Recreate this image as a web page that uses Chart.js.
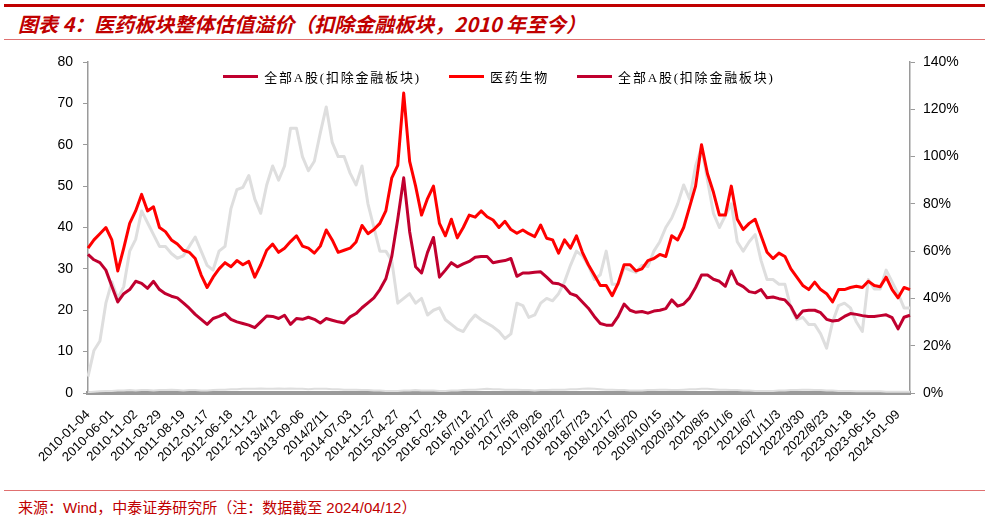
<!DOCTYPE html>
<html lang="zh-CN">
<head>
<meta charset="utf-8">
<title>医药板块整体估值溢价</title>
<script src="https://cdn.jsdelivr.net/npm/chart.js@4.4.1/dist/chart.umd.min.js"></script>
<style>
  html, body { margin: 0; padding: 0; background: #fff; }
  body { width: 989px; height: 520px; position: relative; overflow: hidden; font-family: "Liberation Sans", Arial, sans-serif; }
  .topbar { position: absolute; left: 4px; right: 4px; top: 4px; height: 3px; background: #c00000; }
  .title { position: absolute; left: 18px; top: 9px; line-height: 26px; font: italic bold 20px "Noto Sans CJK SC", sans-serif; color: #c00000; white-space: nowrap; }
  .rule { position: absolute; left: 4px; right: 4px; height: 1px; background: #e07070; }
  .source { position: absolute; left: 18px; top: 496px; font: 15px "Liberation Sans", "Noto Sans CJK SC", sans-serif; color: #c00000; white-space: nowrap; }
  #box { position: absolute; left: 0; top: 40px; width: 989px; height: 440px; }
  #legend { position: absolute; left: 88px; width: 822px; top: 67px; display: flex; justify-content: center; align-items: center; }
  .item { display: flex; align-items: center; margin: 0 14px; }
  .item i { display: inline-block; width: 35px; height: 3px; margin-right: 6px; }
  .item span { font: 13px "Liberation Serif", "Noto Sans CJK SC", serif; letter-spacing: 1.8px; color: #000; }
</style>
</head>
<body>
<div class="topbar"></div>
<div class="title">图表 4：医药板块整体估值溢价（扣除金融板块，2010 年至今）</div>
<div class="rule" style="top:39px"></div>
<div id="box"><canvas id="chart"></canvas></div>
<div id="legend"></div>
<div class="rule" style="top:490px"></div>
<div class="source">来源：Wind，中泰证券研究所（注：数据截至 2024/04/12）</div>
<script>
// x-Achse: jeder 4. Punkt bekommt ein Datum
const tickLabels = ['2010-01-04','2010-06-01','2010-11-02','2011-03-29','2011-08-19','2012-01-17','2012-06-18','2012-11-12',
  '2013/4/12','2013-09-06','2014/2/11','2014-07-03','2014-11-27','2015-04-27','2015-09-17','2016-02-18','2016/7/12',
  '2016/12/7','2017/5/8','2017/9/26','2018/2/27','2018/7/23','2018/12/17','2019/5/20','2019/10/15','2020/3/11',
  '2020/8/5','2021/1/6','2021/6/7','2021/11/3','2022/3/30','2022/8/23','2023-01-18','2023-06-15','2024-01-09'];
const STEP = 4;

// 医药生物 PE
const pharmaPE = [
  35, 37, 38.5, 40, 37, 29.5, 35, 41, 44, 48,
  44, 45, 40, 39, 37, 36, 34.5, 34, 32.5, 28.5,
  25.5, 28, 30, 31.5, 30.5, 32, 31, 31.8, 28, 31,
  34.5, 36, 34, 35, 36.6, 38, 35.5, 35, 33.8, 35.5,
  39.4, 37, 34, 34.5, 35, 36.5, 40.5, 38.5, 39.5, 41,
  44, 52, 55, 72.5, 56, 50, 43, 47, 50, 41,
  38, 42, 37.5, 40, 43, 42.5, 44, 42.6, 41.8, 40,
  41.5, 39.5, 38.6, 39.4, 38.5, 37.8, 40.6, 37.4, 37, 33.8,
  37, 35, 38, 34, 31, 28.5, 26, 26, 23.5, 26.5,
  31, 31, 29.5, 30, 32, 32.5, 33.5, 33, 38, 37,
  40, 45, 50, 60, 53, 48.5, 43, 43, 50, 42,
  39.5, 41, 42, 38, 34, 32.5, 33.8, 33, 30, 28,
  26, 25, 26.8, 25, 24, 22, 25, 25, 25.5, 25.8,
  25.5, 27, 26, 25.7, 28, 25, 23, 25.5, 25
];

// 全部A股(扣除金融板块) PE
const marketPE = [
  33.5, 32.2, 31.5, 29.7, 25.8, 22, 24, 25, 27, 26.5,
  25.3, 27, 25, 24, 23.4, 23, 21.8, 20.5, 19, 17.8,
  16.6, 18, 18.5, 19.2, 17.8, 17.2, 16.8, 16.4, 15.8, 17.2,
  18.6, 18.5, 18, 18.8, 16.6, 18, 17.8, 18.3, 17.8, 16.9,
  18, 17.6, 17.2, 16.9, 18.4, 19.2, 20.6, 21.8, 23, 25,
  27.6, 33, 42, 52, 39, 30.5, 29, 34, 37.6, 28,
  29.7, 31.5, 30.5, 31.2, 31.8, 32.8, 33, 33, 31.5, 31.8,
  32, 32.5, 28.2, 29, 29, 29.2, 29.3, 28, 26.6, 26.4,
  25.7, 24, 23.5, 22, 20.5, 18.5, 16.8, 16.4, 16.4, 18.5,
  21.5, 20, 19.5, 19.7, 19.3, 19.8, 20, 20.4, 22.5, 21,
  21.5, 23, 25.5, 28.5, 28.5, 27.5, 27, 25.8, 29.5, 26.5,
  25.7, 24.5, 24.2, 25, 23, 23.2, 22.8, 22.5, 20.9, 18.2,
  19.8, 20, 20, 19.4, 17.8, 17.4, 17.6, 18.5, 19.2, 19,
  18.7, 18.5, 18.5, 18.7, 18.9, 18.2, 15.5, 18.3, 18.8
];

// 溢价率 (%), rechte Achse
const premium = [
  6.9, 18, 22, 38, 47, 40, 45, 60, 65, 77,
  72, 67, 62, 62, 59, 57, 58, 62, 66, 60,
  54, 52, 60, 62, 78, 86, 87, 92, 82, 76,
  88, 96, 90, 96, 112, 112, 100, 94, 98, 110,
  121, 106, 100, 100, 93, 88, 96, 80, 70, 60,
  60, 56, 38, 40, 42, 38, 40, 33, 35, 36,
  31, 29, 27, 26, 30, 33, 31, 29.5, 28, 26,
  23, 25, 38, 37, 32, 33, 38, 40, 39, 42,
  47, 54, 60, 58, 54, 48, 50, 60, 46, 46,
  53, 52, 51, 54, 53.5, 60, 64, 70, 74, 80,
  88, 82, 96, 104, 90, 76, 70, 75, 80, 64,
  60, 64, 67, 56, 48, 48, 46, 46, 36, 31,
  32, 29, 29, 25, 19, 30, 37, 38, 36, 30,
  26, 48, 44, 44, 52, 47, 42, 36, 36
];

// flache graue Linie knapp über 0
const baseLine = [
  0.2, 0.3, 0.4, 0.5, 0.5, 0.6, 0.6, 0.7, 0.6, 0.7,
  0.7, 0.6, 0.7, 0.7, 0.8, 0.7, 0.6, 0.7, 0.7, 0.6,
  0.6, 0.7, 0.8, 0.8, 0.9, 0.9, 1.0, 1.0, 1.0, 1.1,
  1.0, 1.0, 1.1, 1.0, 1.1, 1.0, 1.0, 0.9, 1.0, 1.0,
  1.0, 0.9, 0.9, 0.8, 0.8, 0.8, 0.7, 0.7, 0.6, 0.6,
  0.5, 0.5, 0.5, 0.6, 0.6, 0.7, 0.6, 0.6, 0.6, 0.5,
  0.5, 0.6, 0.6, 0.7, 0.8, 0.8, 0.9, 1.0, 0.9, 0.9,
  0.8, 0.8, 0.8, 0.7, 0.7, 0.6, 0.7, 0.7, 0.8, 0.8,
  0.8, 0.9, 0.9, 1.0, 1.1, 1.0, 0.9, 0.8, 0.8, 0.7,
  0.7, 0.6, 0.6, 0.6, 0.7, 0.7, 0.8, 0.8, 0.7, 0.7,
  0.8, 0.9, 0.9, 1.0, 1.0, 0.9, 0.8, 0.8, 0.7, 0.7,
  0.6, 0.6, 0.5, 0.5, 0.5, 0.5, 0.6, 0.6, 0.7, 0.7,
  0.8, 0.8, 0.7, 0.7, 0.6, 0.6, 0.5, 0.5, 0.5, 0.4,
  0.4, 0.4, 0.4, 0.4, 0.3, 0.3, 0.3, 0.3, 0.3
];

const legendNames = ['全部A股(扣除金融板块)', '医药生物', '全部A股(扣除金融板块)'];
const legendColors = ['#c0002f', '#ff0000', '#c0002f'];

const RED = '#ff0000', CRIMSON = '#c0002f', GREY = '#dedede', AXIS = '#9a9a9a';

const labels = pharmaPE.map((_, i) => i % STEP === 0 ? tickLabels[i / STEP] : '');

const lg = document.getElementById('legend');
legendNames.forEach((n, i) => {
  lg.innerHTML += `<div class="item"><i style="background:${legendColors[i]}"></i><span>${n}</span></div>`;
});

Chart.defaults.font.family = '"Liberation Sans", Arial, sans-serif';
Chart.defaults.color = '#000';

new Chart(document.getElementById('chart'), {
  type: 'line',
  data: {
    labels: labels,
    datasets: [
      { label: '医药生物', data: pharmaPE, borderColor: RED, borderWidth: 3, yAxisID: 'y' },
      { label: '全部A股(扣除金融板块)', data: marketPE, borderColor: CRIMSON, borderWidth: 3, yAxisID: 'y' },
      { label: '溢价', data: premium, borderColor: GREY, borderWidth: 3, yAxisID: 'y2' },
      { label: 'base', data: baseLine, borderColor: GREY, borderWidth: 2, yAxisID: 'y' }
    ]
  },
  options: {
    responsive: true,
    maintainAspectRatio: false,
    animation: false,
    layout: { padding: { top: 22, left: 0, right: 0, bottom: 0 } },
    elements: { point: { radius: 0 }, line: { tension: 0, borderJoinStyle: 'round' } },
    plugins: { legend: { display: false }, tooltip: { enabled: false } },
    scales: {
      x: {
        grid: { display: false },
        border: { color: AXIS, width: 4 },
        ticks: {
          autoSkip: false, maxRotation: 45, minRotation: 45, padding: 6,
          font: { size: 13 },
          callback: function (v) { return this.getLabelForValue(v) || null; }
        },
        afterFit: s => { s.height = 87; }
      },
      y: {
        position: 'left', min: 0, max: 80,
        grid: { drawOnChartArea: false, tickLength: 5, color: AXIS },
        border: { color: AXIS, width: 1.5 },
        ticks: { stepSize: 10, padding: 10, font: { size: 14 } },
        afterFit: s => { s.width = 88; }
      },
      y2: {
        position: 'right', min: 0, max: 140,
        grid: { drawOnChartArea: false, tickLength: 5, color: AXIS },
        border: { color: AXIS, width: 1.5 },
        ticks: { stepSize: 20, padding: 8, font: { size: 14 }, callback: v => v + '%' },
        afterFit: s => { s.width = 79; }
      }
    }
  }
});
</script>
</body>
</html>
